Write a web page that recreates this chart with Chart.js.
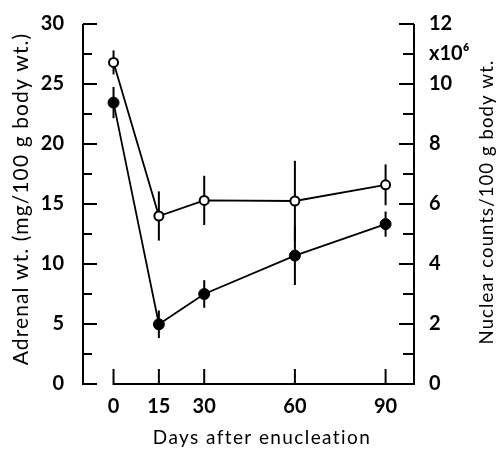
<!DOCTYPE html>
<html>
<head>
<meta charset="utf-8">
<script src="https://cdn.jsdelivr.net/npm/chart.js@4.4.1/dist/chart.umd.min.js"></script>
<style>
  body { margin: 0; background: #fff; }
  canvas { display: block; }
</style>
</head>
<body>
<canvas id="chart" width="503" height="449"></canvas>
<script>
// days after enucleation (x)
const days = [0, 15, 30, 60, 90];
// open circles, left axis (mg/100 g body wt.)
const adrenalWt = [26.8, 14.0, 15.3, 15.25, 16.6];
const adrenalErr = [1.0, 2.05, 2.05, 3.35, 1.7];
// filled circles, right axis (x10^6 /100 g body wt.)
const nuclearCounts = [9.38, 1.99, 3.0, 4.28, 5.33];
const nuclearErr = [0.52, 0.46, 0.46, 0.98, 0.42];
// tick labels
const dayTicks = [0, 15, 30, 60, 90];
const adrenalTicks = [0, 5, 10, 15, 20, 25, 30];
const nuclearTicks = [0, 2, 4, 6, 8, 10, 12];

const FONT = "Lato, 'Open Sans', sans-serif";

// text helper, letter spaced a bit like the printed font
function drawTitle(ctx, text, x, y, size, spacing, rot) {
  ctx.save();
  ctx.font = size + "px " + FONT;
  ctx.letterSpacing = spacing + "px";
  ctx.textAlign = "center";
  ctx.textBaseline = "alphabetic";
  ctx.translate(x, y);
  if (rot) ctx.rotate(rot);
  ctx.fillText(text, 0, 0);
  ctx.restore();
}

// draws the error bars, the axis lines with inward ticks and the titles
const handAxes = {
  id: "handAxes",
  beforeDatasetsDraw(chart) {
    const ctx = chart.ctx;
    const x = chart.scales.x, yL = chart.scales.y, yR = chart.scales.y2;
    const area = chart.chartArea;
    ctx.save();
    ctx.strokeStyle = "#000";
    ctx.fillStyle = "#000";
    ctx.lineWidth = 2;

    // error bars
    [[adrenalWt, adrenalErr, yL], [nuclearCounts, nuclearErr, yR]].forEach(([vals, errs, sc]) => {
      days.forEach((d, i) => {
        const px = x.getPixelForValue(d);
        ctx.beginPath();
        ctx.moveTo(px, sc.getPixelForValue(vals[i] - errs[i]));
        ctx.lineTo(px, sc.getPixelForValue(vals[i] + errs[i]));
        ctx.stroke();
      });
    });

    // left axis
    const lx = area.left;
    ctx.beginPath();
    ctx.moveTo(lx, yL.getPixelForValue(30));
    ctx.lineTo(lx, yL.getPixelForValue(0) + 1);
    ctx.stroke();
    for (let v = 0; v <= 30; v += 2.5) {
      const py = yL.getPixelForValue(v);
      const len = v % 5 === 0 ? 14 : 9;
      ctx.beginPath();
      ctx.moveTo(lx, py);
      ctx.lineTo(lx + len, py);
      ctx.stroke();
    }

    // bottom axis, from day 0 to the right axis
    const by = area.bottom;
    ctx.beginPath();
    ctx.moveTo(x.getPixelForValue(dayTicks[0]), by);
    ctx.lineTo(area.right, by);
    ctx.stroke();
    dayTicks.forEach((d) => {
      const px = x.getPixelForValue(d);
      ctx.beginPath();
      ctx.moveTo(px, by + 1);
      ctx.lineTo(px, by - 15);
      ctx.stroke();
    });

    // right axis
    const rx = area.right;
    ctx.beginPath();
    ctx.moveTo(rx, yR.getPixelForValue(12));
    ctx.lineTo(rx, yR.getPixelForValue(0) + 1);
    ctx.stroke();
    for (let v = 0; v <= 12; v += 1) {
      const py = yR.getPixelForValue(v);
      const len = v % 2 === 0 ? 15 : 11;
      ctx.beginPath();
      ctx.moveTo(rx, py);
      ctx.lineTo(rx - len, py);
      ctx.stroke();
    }

    // titles
    drawTitle(ctx, "Adrenal wt. (mg/100 g body wt.)", 28, 199, 21, 1.1, -Math.PI / 2);
    drawTitle(ctx, "Nuclear counts/100 g body wt.", 493, 202, 18.5, 1.1, -Math.PI / 2);
    drawTitle(ctx, "Days after enucleation", 262, 444, 19, 1.4, 0);

    ctx.restore();
  },
};

new Chart(document.getElementById("chart"), {
  type: "line",
  data: {
    datasets: [
      {
        label: "Adrenal wt.",
        data: days.map((d, i) => ({ x: d, y: adrenalWt[i] })),
        yAxisID: "y",
        borderColor: "#000",
        borderWidth: 1.8,
        pointRadius: 4.5,
        pointBorderWidth: 2,
        pointBackgroundColor: "#fff",
        pointBorderColor: "#000",
        tension: 0,
      },
      {
        label: "Nuclear counts",
        data: days.map((d, i) => ({ x: d, y: nuclearCounts[i] })),
        yAxisID: "y2",
        borderColor: "#000",
        borderWidth: 1.8,
        pointRadius: 5.5,
        pointBorderWidth: 1,
        pointBackgroundColor: "#000",
        pointBorderColor: "#000",
        tension: 0,
      },
    ],
  },
  options: {
    responsive: false,
    animation: false,
    events: [],
    layout: { padding: { top: 24, left: 0, right: 0, bottom: 0 } },
    plugins: { legend: { display: false }, tooltip: { enabled: false } },
    scales: {
      x: {
        type: "linear",
        min: -10.1,
        max: 99.4,
        afterBuildTicks: (s) => { s.ticks = dayTicks.map((v) => ({ value: v })); },
        afterFit: (s) => { s.height = 65; },
        grid: { display: false },
        border: { display: false },
        ticks: { color: "#000", font: { family: FONT, size: 20, weight: "bold" }, padding: 3, autoSkip: false, maxRotation: 0 },
      },
      y: {
        position: "left",
        min: 0,
        max: 30,
        afterBuildTicks: (s) => { s.ticks = adrenalTicks.map((v) => ({ value: v })); },
        afterFit: (s) => { s.width = 83; },
        grid: { display: false },
        border: { display: false },
        ticks: { color: "#000", font: { family: FONT, size: 20, weight: "bold" }, padding: 11, autoSkip: false },
      },
      y2: {
        position: "right",
        min: 0,
        max: 12,
        afterBuildTicks: (s) => {
          s.ticks = nuclearTicks.map((v) => ({ value: v })).concat([{ value: 11 }]);
        },
        afterFit: (s) => { s.width = 89; },
        grid: { display: false },
        border: { display: false },
        ticks: {
          color: "#000",
          font: { family: FONT, size: 20, weight: "bold" },
          padding: 7,
          autoSkip: false,
          callback: (v) => (v === 11 ? "x10\u2076" : v),
        },
      },
    },
  },
  plugins: [handAxes],
});
</script>
</body>
</html>
